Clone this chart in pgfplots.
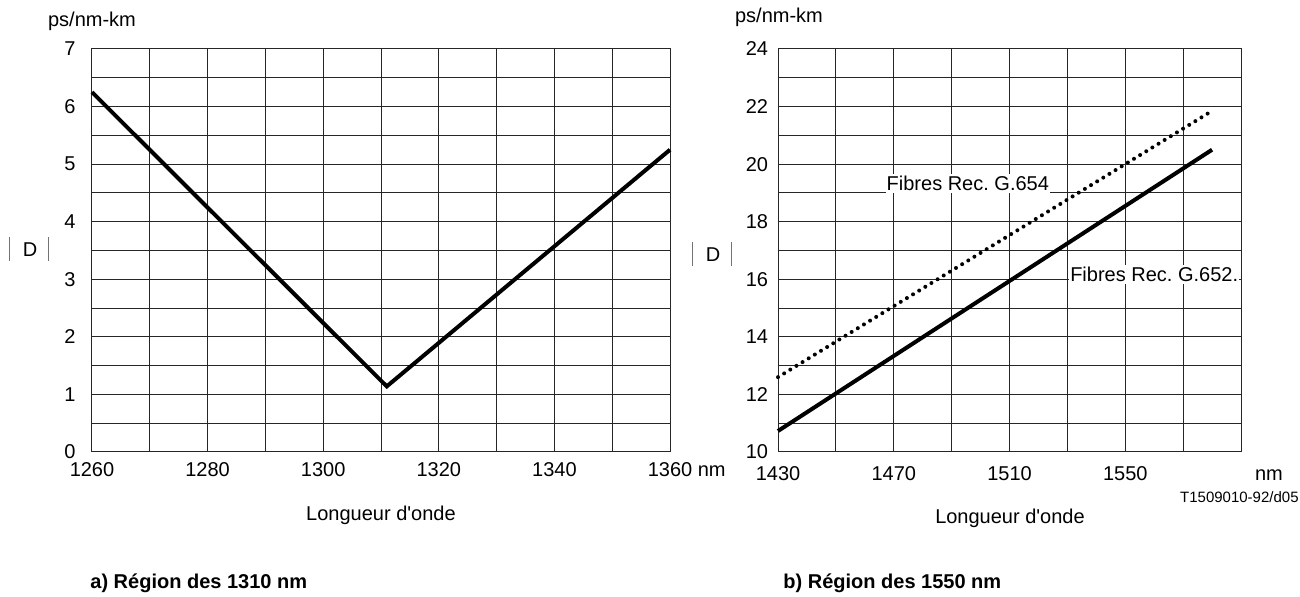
\documentclass[border=0pt]{standalone}
\usepackage{fontspec}
\setmainfont{Liberation Sans}
\usepackage{pgfplots}
\pgfplotsset{compat=1.18}
\pgfplotsset{
  common/.style={
    scale only axis, anchor=south west,
    height=201.5pt,
    grid=both,
    major grid style={black!85, line width=0.5pt},
    minor grid style={black!85, line width=0.5pt},
    axis line style={black!85, line width=0.5pt},
    major tick length=0pt, minor tick length=0pt,
    /pgf/number format/assume math mode=true,
    ticklabel style={font=\fontsize{10}{12}\selectfont, inner sep=0pt},
    clip=false,
  }
}
\newcommand{\absbar}{\textcolor{black!55}{\rule[-2pt]{0.6pt}{12pt}}}
\newcommand{\absD}{\absbar\hspace{6.5pt}D\hspace{5.5pt}\absbar}
\begin{document}
\begin{tikzpicture}
\path[use as bounding box] (0pt,0pt) rectangle (650pt,298.5pt);

% ---------- a) 1310 nm region ----------
\begin{axis}[common, at={(46pt,72.5pt)}, width=289pt,
  xmin=1260, xmax=1360, ymin=0, ymax=7,
  xtick={1260,1280,1300,1320,1340,1360},
  minor xtick={1270,1290,1310,1330,1350},
  xticklabels={1260,1280,1300,1320,1340,{1360\rlap{ nm}}},
  ytick={0,1,2,3,4,5,6,7},
  minor ytick={0.5,1.5,2.5,3.5,4.5,5.5,6.5},
  xticklabel style={anchor=north, yshift=-5pt},
  yticklabel style={anchor=east, xshift=-8pt},
]
\addplot[black, line width=2pt, line join=miter] coordinates {(1260,6.25) (1311,1.14) (1360,5.25)};
\end{axis}

% ---------- b) 1550 nm region ----------
\begin{axis}[common, at={(389pt,72.5pt)}, width=231.5pt,
  xmin=1430, xmax=1590, ymin=10, ymax=24,
  xtick={1430,1470,1510,1550},
  minor xtick={1450,1490,1530,1570,1590},
  xticklabels={1430,1470,1510,1550},
  ytick={10,12,14,16,18,20,22,24},
  minor ytick={11,13,15,17,19,21,23},
  xticklabel style={anchor=north, yshift=-7.2pt},
  yticklabel style={anchor=east, xshift=-4.75pt},
]
\addplot[black, line width=2pt] coordinates {(1430,10.73) (1580,20.5)};
\addplot[black, line width=2pt, line cap=round, dash pattern=on 0pt off 3.6pt] coordinates {(1430,12.6) (1580,21.85)};
\node[fill=white, inner xsep=0.5pt, inner ysep=1pt] at (axis cs:1495.6,19.32) {Fibres Rec.\ G.654};
\node[fill=white, inner xsep=0.5pt, inner ysep=1pt] at (axis cs:1560,16.17) {Fibres Rec.\ G.652.};
\end{axis}

% ---------- texts ----------
\node at (46pt,288pt) {ps/nm-km};
\node at (389.5pt,290pt) {ps/nm-km};
\node at (14.5pt,174pt) {\absD};
\node at (356pt,171.5pt) {\absD};
\node at (190.5pt,41pt) {Longueur d\textquotesingle onde};
\node at (505pt,39.5pt) {Longueur d\textquotesingle onde};
\node[font=\fontsize{10}{12}\selectfont] at (634.5pt,61pt) {nm};
\node[anchor=east, inner sep=0pt, font=\fontsize{7.5}{9}\selectfont] at (649.5pt,50pt) {T1509010-92/d05};
\node[anchor=west, inner sep=0pt, font=\bfseries] at (45pt,7pt) {a) Région des 1310 nm};
\node[anchor=west, inner sep=0pt, font=\bfseries] at (391.5pt,7pt) {b) Région des 1550 nm};
\end{tikzpicture}
\end{document}
